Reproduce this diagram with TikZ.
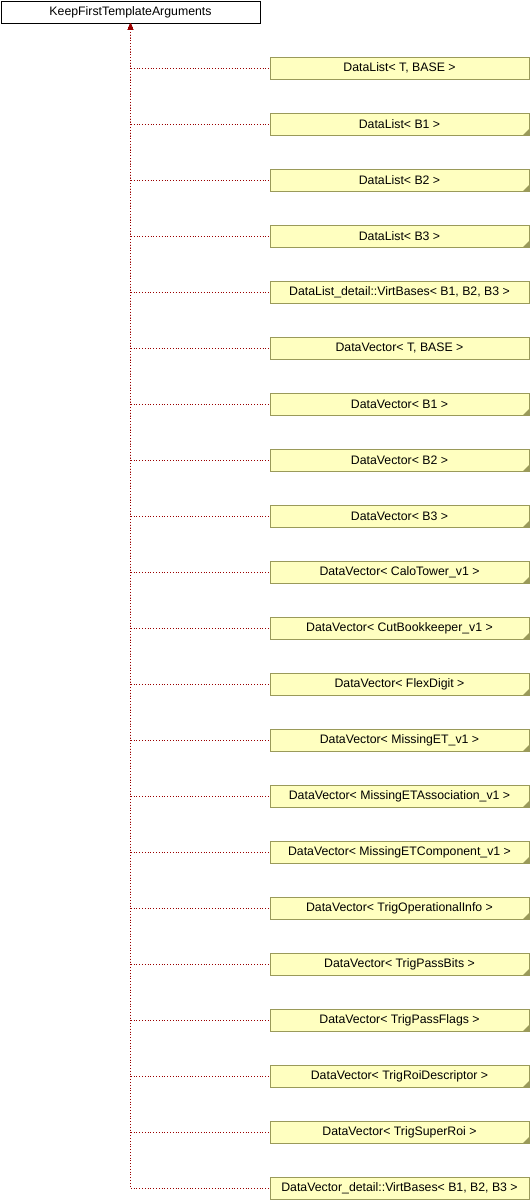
\documentclass[tikz,border=0pt]{standalone}
\usepackage{fontspec}
\setmainfont{Liberation Sans}
\usetikzlibrary{arrows.meta}
\definecolor{boxfill}{HTML}{FFFFC0}
\definecolor{boxline}{HTML}{9A9A5A}
\definecolor{edgecol}{HTML}{9A0000}
\begin{document}
\begin{tikzpicture}[x=1pt,y=-1pt,
  base/.style={draw=black,fill=white,line width=0.8pt,minimum width=259pt,minimum height=22pt,inner sep=0pt,font=\fontsize{12.3}{14}\selectfont},
  cls/.style={draw=boxline,fill=boxfill,line width=0.8pt,minimum width=259pt,minimum height=22pt,inner sep=0pt,font=\fontsize{12.3}{14}\selectfont},
  tmpl/.style={cls,path picture={\fill[boxline] (path picture bounding box.south east) -- ++(-6pt,0) -- ++(6pt,6pt) -- cycle;}},
  edge/.style={draw=edgecol,line width=0.8pt,dotted,{Triangle[length=6pt,width=5pt]}-}]
\useasboundingbox (0,0) rectangle (530,1200);
\node[base] (top) at (130.5,12) {KeepFirstTemplateArguments};
\foreach \i/\t/\s in {
 1/{DataList< T, BASE >}/cls,
 2/{DataList< B1 >}/tmpl,
 3/{DataList< B2 >}/tmpl,
 4/{DataList< B3 >}/tmpl,
 5/{DataList\_detail::VirtBases< B1, B2, B3 >}/cls,
 6/{DataVector< T, BASE >}/cls,
 7/{DataVector< B1 >}/tmpl,
 8/{DataVector< B2 >}/tmpl,
 9/{DataVector< B3 >}/tmpl,
 10/{DataVector< CaloTower\_v1 >}/tmpl,
 11/{DataVector< CutBookkeeper\_v1 >}/tmpl,
 12/{DataVector< FlexDigit >}/tmpl,
 13/{DataVector< MissingET\_v1 >}/tmpl,
 14/{DataVector< MissingETAssociation\_v1 >}/tmpl,
 15/{DataVector< MissingETComponent\_v1 >}/tmpl,
 16/{DataVector< TrigOperationalInfo >}/tmpl,
 17/{DataVector< TrigPassBits >}/tmpl,
 18/{DataVector< TrigPassFlags >}/tmpl,
 19/{DataVector< TrigRoiDescriptor >}/tmpl,
 20/{DataVector< TrigSuperRoi >}/tmpl,
 21/{DataVector\_detail::VirtBases< B1, B2, B3 >}/cls}
{
  \node[\s] (c\i) at (399.5,{68+(\i-1)*56}) {\t};
  \draw[edge] (top.south) |- (c\i.west);
}
\end{tikzpicture}
\end{document}
